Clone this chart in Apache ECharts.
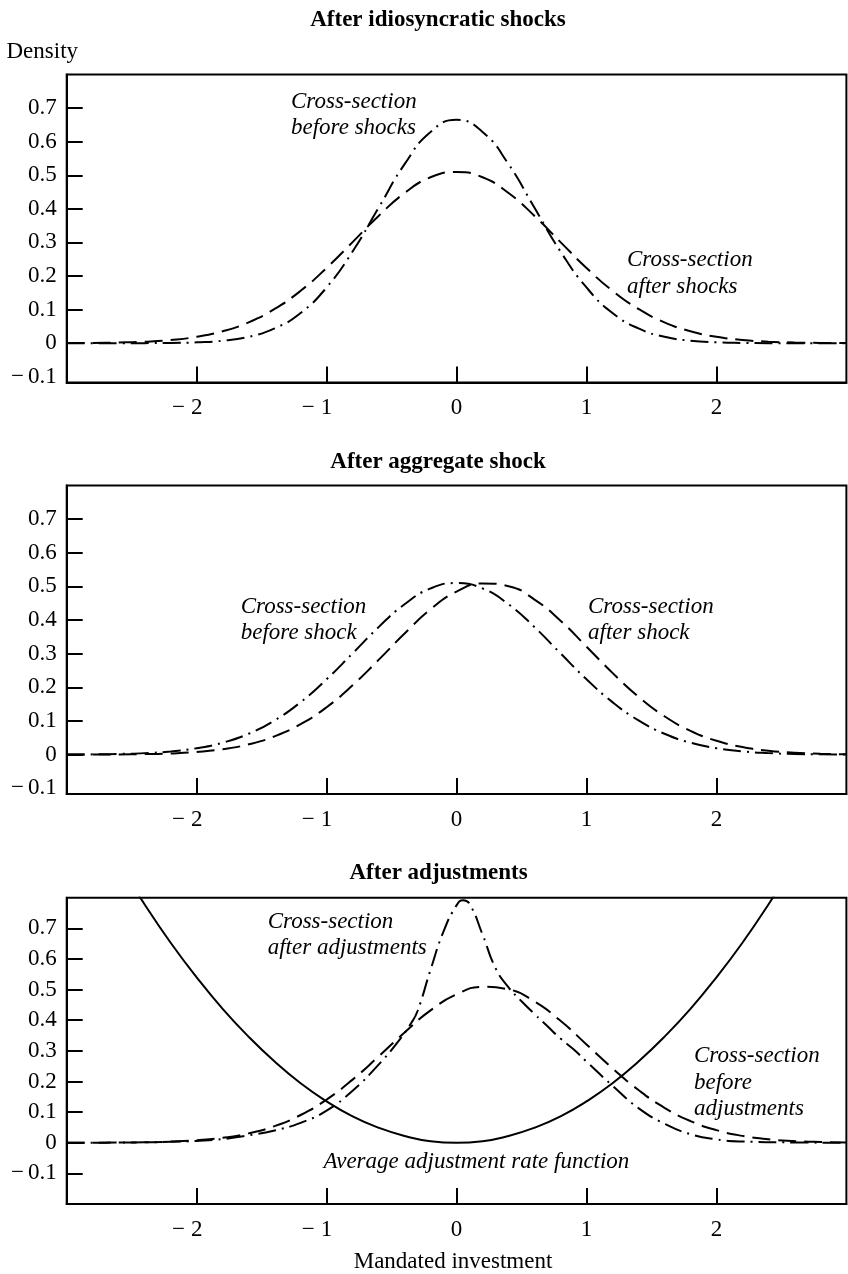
<!DOCTYPE html>
<html>
<head>
<meta charset="utf-8">
<script src="https://cdn.jsdelivr.net/npm/echarts@6/dist/echarts.min.js"></script>
<style>
  html, body { margin: 0; padding: 0; background: #fff; }
  #chart { width: 848px; height: 1274px; }
</style>
</head>
<body>
<div id="chart"></div>
<script>
// ---- data ----
const xGrid = [-3, -2.8, -2.6, -2.4, -2.2, -2.0, -1.8, -1.6, -1.4, -1.2, -1.0, -0.8, -0.6, -0.4, -0.2, 0,
               0.2, 0.4, 0.6, 0.8, 1.0, 1.2, 1.4, 1.6, 1.8, 2.0, 2.2, 2.4, 2.6, 2.8, 3.0];

// Panel 1: After idiosyncratic shocks
const beforeShocks = [0, 0, 0, 0.0002, 0.0008, 0.0026, 0.0074, 0.019, 0.044, 0.090, 0.166, 0.273, 0.403, 0.533, 0.629, 0.665,
                      0.629, 0.533, 0.403, 0.273, 0.166, 0.090, 0.044, 0.019, 0.0074, 0.0026, 0.0008, 0.0002, 0, 0, 0];
const afterShocks = [0.0003, 0.0008, 0.002, 0.0045, 0.0096, 0.019, 0.0355, 0.062, 0.102, 0.156, 0.224, 0.301, 0.379, 0.447, 0.494, 0.51,
                     0.494, 0.447, 0.379, 0.301, 0.224, 0.156, 0.102, 0.062, 0.0355, 0.019, 0.0096, 0.0045, 0.002, 0.0008, 0.0003];

// Panel 2: After aggregate shock
const beforeShock = [0.0003, 0.0008, 0.002, 0.0045, 0.0096, 0.019, 0.0355, 0.062, 0.102, 0.156, 0.224, 0.301, 0.379, 0.447, 0.494, 0.51,
                     0.494, 0.447, 0.379, 0.301, 0.224, 0.156, 0.102, 0.062, 0.0355, 0.019, 0.0096, 0.0045, 0.002, 0.0008, 0.0003];
const afterShock = [0.0001, 0.0002, 0.0006, 0.0016, 0.0037, 0.008, 0.0161, 0.0306, 0.0544, 0.0906, 0.141, 0.206, 0.2816, 0.360, 0.432, 0.4845,
                    0.509, 0.5007, 0.461, 0.398, 0.321, 0.243, 0.172, 0.114, 0.0708, 0.0412, 0.0224, 0.0114, 0.0055, 0.0024, 0.001];

// Panel 3: After adjustments
const beforeAdjustments = [0.0001, 0.0002, 0.0006, 0.0016, 0.0037, 0.008, 0.0161, 0.0306, 0.0544, 0.0906, 0.141, 0.206, 0.2816, 0.360, 0.432, 0.4845,
                           0.509, 0.5007, 0.461, 0.398, 0.321, 0.243, 0.172, 0.114, 0.0708, 0.0412, 0.0224, 0.0114, 0.0055, 0.0024, 0.001];
const adjustmentRate = [1.215, 1.058, 0.913, 0.778, 0.653, 0.54, 0.437, 0.346, 0.265, 0.194, 0.135, 0.086, 0.049, 0.022, 0.005, 0,
                        0.005, 0.022, 0.049, 0.086, 0.135, 0.194, 0.265, 0.346, 0.437, 0.54, 0.653, 0.778, 0.913, 1.058, 1.215];
const xAfterAdj = [-3, -2.6, -2.2, -2.0, -1.8, -1.6, -1.4, -1.2, -1.0, -0.8,
                   -0.6, -0.45, -0.35, -0.3, -0.2, -0.1, 0.0, 0.05, 0.1, 0.2,
                   0.3, 0.4, 0.5, 0.6, 0.7, 0.8, 0.9, 1.0, 1.2, 1.4,
                   1.6, 1.8, 2.0, 2.2, 2.6, 3.0];
const afterAdjustments = [0, 0.0005, 0.003, 0.006, 0.012, 0.024, 0.040, 0.065, 0.105, 0.17,
                          0.255, 0.33, 0.39, 0.43, 0.565, 0.69, 0.775, 0.792, 0.78, 0.68,
                          0.57, 0.507, 0.462, 0.42, 0.38, 0.34, 0.305, 0.265, 0.186, 0.113,
                          0.062, 0.028, 0.011, 0.004, 0.001, 0];

// tick labels
const xTicks = [-2, -1, 0, 1, 2];
const yTicksTop = [-0.1, 0, 0.1, 0.2, 0.3, 0.4, 0.5, 0.6, 0.7];
const yTickMarksTop = [0, 0.1, 0.2, 0.3, 0.4, 0.5, 0.6, 0.7];
const yTicksBottom = [-0.1, 0, 0.1, 0.2, 0.3, 0.4, 0.5, 0.6, 0.7];

const panelTitles = ['After idiosyncratic shocks', 'After aggregate shock', 'After adjustments'];

// ---- chart ----
const FONT = '"Liberation Serif", "Times New Roman", serif';
const FS = 23;
const zip = (xs, ys) => xs.map((x, i) => [x, ys[i]]);

const DASHED = [18, 8];
const DASHDOT = [18, 6, 2, 6];

function xAxisCfg(gridIndex) {
  return {
    type: 'value', gridIndex, min: -3, max: 3,
    axisLine: { show: true, onZero: false, lineStyle: { color: '#000', width: 2 } },
    axisTick: { show: true, inside: true, length: 16, customValues: xTicks, lineStyle: { color: '#000', width: 2 } },
    axisLabel: {
      customValues: xTicks, margin: 14, color: '#000', fontFamily: FONT, fontSize: FS,
      formatter: v => v < 0 ? '{m|\u2212}{n|' + Math.abs(v) + '}{p|}' : String(v),
      rich: {
        m: { width: 19, align: 'left', fontFamily: FONT, fontSize: FS, color: '#000' },
        n: { fontFamily: FONT, fontSize: FS, color: '#000' },
        p: { width: 19, fontFamily: FONT, fontSize: FS }
      }
    },
    splitLine: { show: false }
  };
}
function yAxisCfg(gridIndex, min, labels, marks) {
  return {
    type: 'value', gridIndex, min, max: 0.8,
    axisLine: { show: true, onZero: false, lineStyle: { color: '#000', width: 2 } },
    axisTick: { show: true, inside: true, length: 16, customValues: marks, lineStyle: { color: '#000', width: 2 } },
    axisLabel: {
      customValues: labels, margin: 10, color: '#000', fontFamily: FONT, fontSize: FS,
      formatter: v => {
        if (Math.abs(v) < 1e-9) return '0';
        return v < 0 ? '{m|\u2212}' + Math.abs(v).toFixed(1) : v.toFixed(1);
      },
      rich: {
        m: { width: 17, align: 'left', fontFamily: FONT, fontSize: FS, color: '#000' }
      }
    },
    splitLine: { show: false }
  };
}
function lineSeries(idx, data, dash, width) {
  return {
    type: 'line', xAxisIndex: idx, yAxisIndex: idx, data,
    showSymbol: false, symbol: 'none', smooth: 0.5, clip: true,
    lineStyle: { color: '#000', width: width || 2, type: dash || 'solid' },
    silent: true, animation: false
  };
}

const gridBase = { left: 66.7, right: 1.6, show: true, borderColor: '#000', borderWidth: 2, backgroundColor: 'transparent' };

function txt(x, y, text, opts) {
  return {
    type: 'text', x, y, silent: true,
    style: Object.assign({
      text, fill: '#000', font: FS + 'px ' + FONT,
      align: 'left', verticalAlign: 'middle'
    }, opts || {})
  };
}
const ITAL = 'italic ' + FS + 'px ' + FONT;
const LH = 26.6;

const option = {
  animation: false,
  backgroundColor: '#fff',
  grid: [
    Object.assign({ top: 74.5, height: 308 }, gridBase),
    Object.assign({ top: 485.5, height: 308.5 }, gridBase),
    Object.assign({ top: 897.7, height: 306.3 }, gridBase)
  ],
  xAxis: [xAxisCfg(0), xAxisCfg(1), xAxisCfg(2)],
  yAxis: [
    yAxisCfg(0, -0.117, yTicksTop, yTickMarksTop),
    yAxisCfg(1, -0.117, yTicksTop, yTickMarksTop),
    yAxisCfg(2, -0.2, yTicksBottom, yTicksBottom)
  ],
  series: [
    lineSeries(0, zip(xGrid, beforeShocks), DASHDOT),
    lineSeries(0, zip(xGrid, afterShocks), DASHED),
    lineSeries(1, zip(xGrid, beforeShock), DASHDOT),
    lineSeries(1, zip(xGrid, afterShock), DASHED),
    lineSeries(2, zip(xGrid, beforeAdjustments), DASHED),
    lineSeries(2, zip(xAfterAdj, afterAdjustments), DASHDOT),
    lineSeries(2, zip(xGrid, adjustmentRate), 'solid', 2)
  ],
  graphic: [
    txt(438, 20, panelTitles[0], { font: 'bold ' + FS + 'px ' + FONT, align: 'center' }),
    txt(438, 462.3, panelTitles[1], { font: 'bold ' + FS + 'px ' + FONT, align: 'center' }),
    txt(438.6, 873, panelTitles[2], { font: 'bold ' + FS + 'px ' + FONT, align: 'center' }),
    txt(6.5, 52, 'Density'),
    txt(453, 1261.7, 'Mandated investment', { align: 'center' }),
    txt(291, 101.7 - LH / 2, 'Cross-section\nbefore shocks', { font: ITAL, verticalAlign: 'top', lineHeight: LH }),
    txt(627, 260 - LH / 2, 'Cross-section\nafter shocks', { font: ITAL, verticalAlign: 'top', lineHeight: LH }),
    txt(240.7, 606.7 - LH / 2, 'Cross-section\nbefore shock', { font: ITAL, verticalAlign: 'top', lineHeight: LH }),
    txt(588, 606.7 - LH / 2, 'Cross-section\nafter shock', { font: ITAL, verticalAlign: 'top', lineHeight: LH }),
    txt(267.7, 921.7 - LH / 2, 'Cross-section\nafter adjustments', { font: ITAL, verticalAlign: 'top', lineHeight: LH }),
    txt(694, 1056 - LH / 2, 'Cross-section\nbefore\nadjustments', { font: ITAL, verticalAlign: 'top', lineHeight: LH }),
    txt(323.4, 1161.7, 'Average adjustment rate function', { font: ITAL })
  ]
};

const chart = echarts.init(document.getElementById('chart'), null, { renderer: 'canvas' });
chart.setOption(option);
</script>
</body>
</html>
